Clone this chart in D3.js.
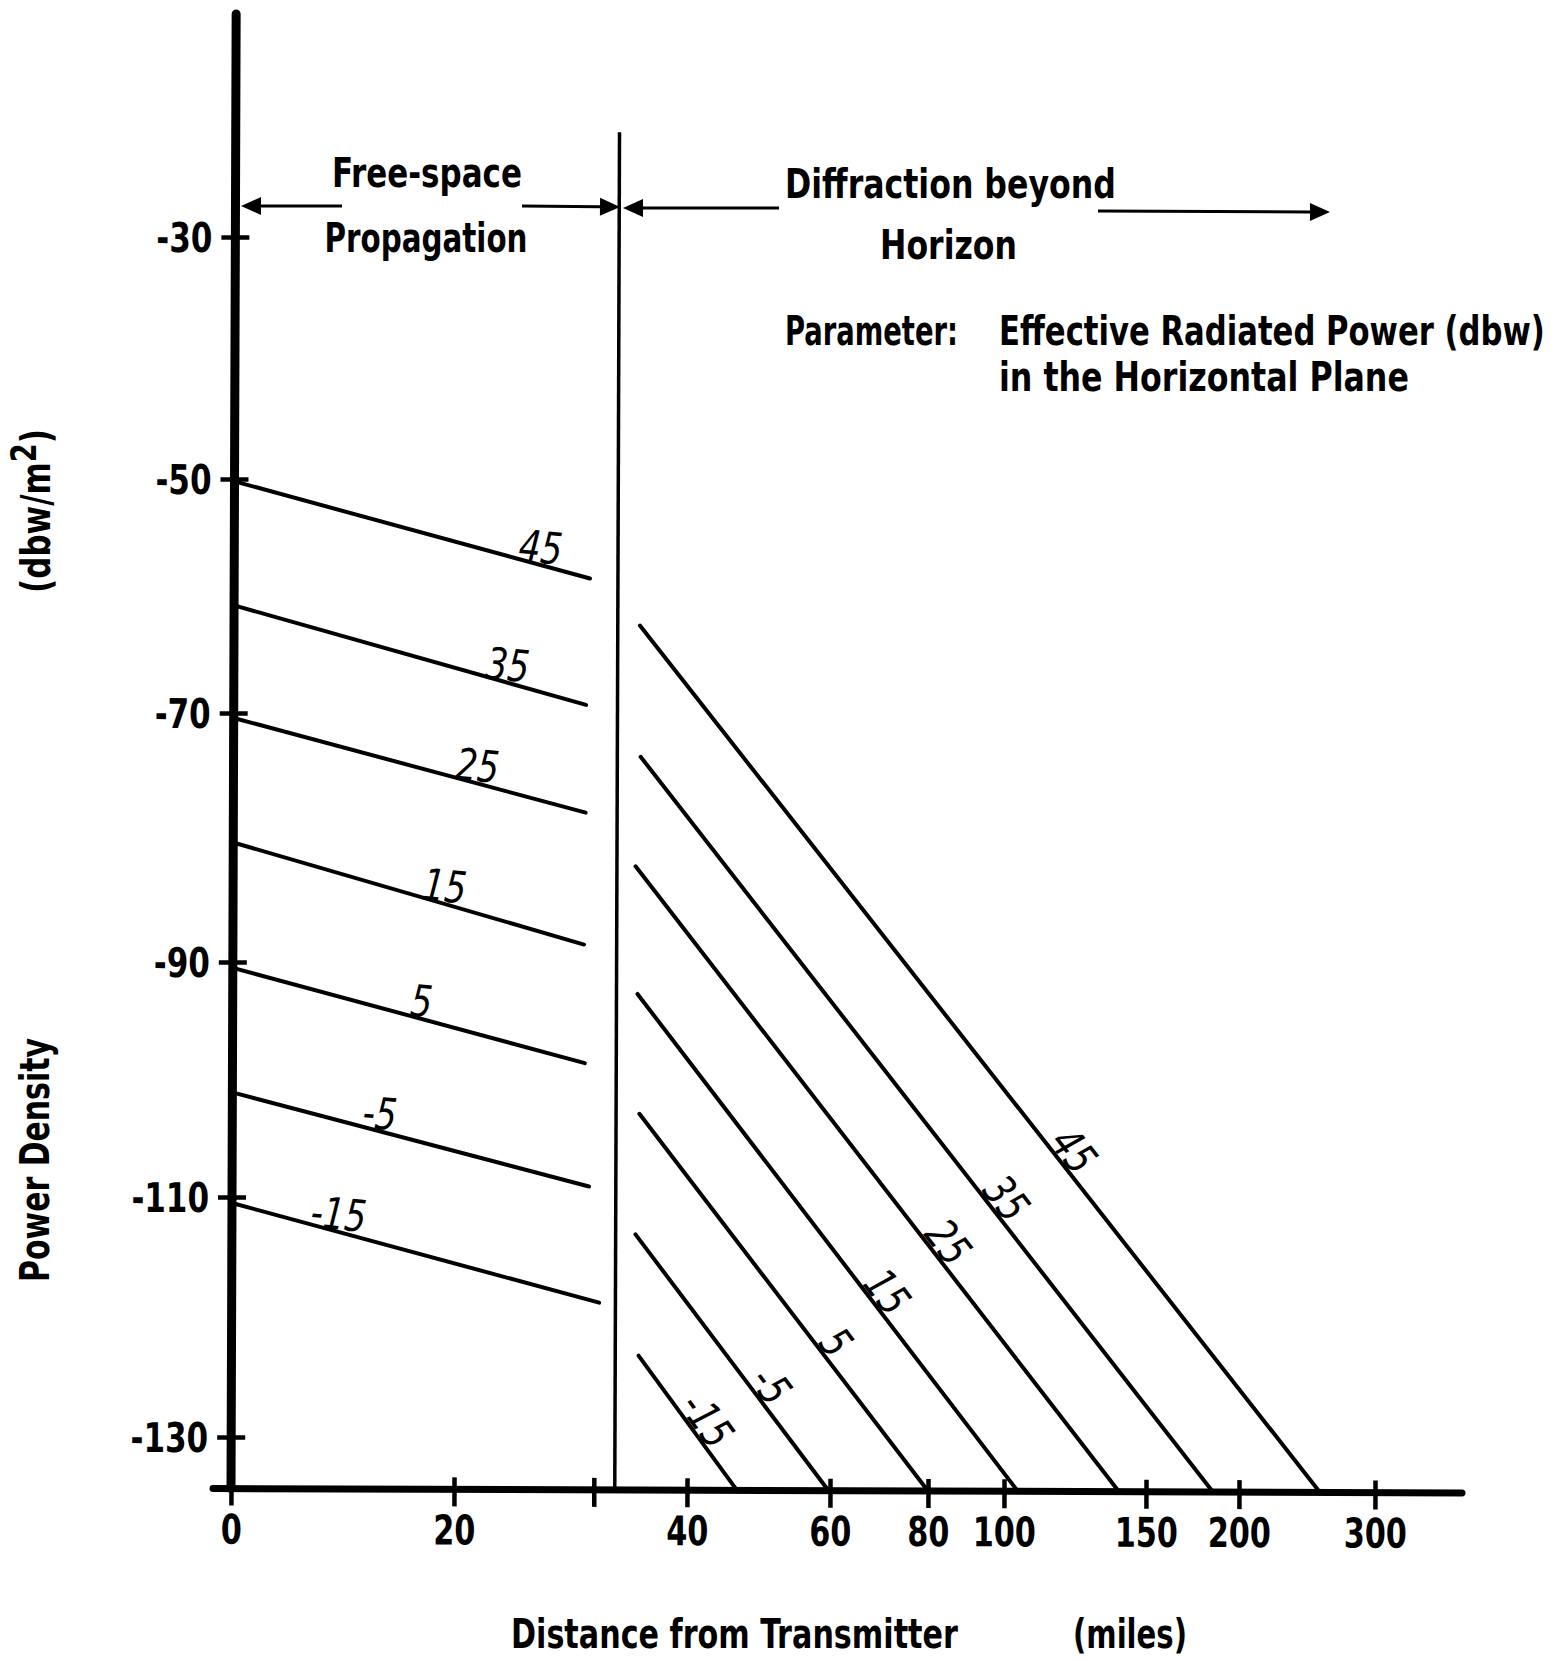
<!DOCTYPE html>
<html>
<head>
<meta charset="utf-8">
<script src="https://cdn.jsdelivr.net/npm/d3@7"></script>
<style>
  html, body { margin: 0; padding: 0; background: #fff; }
  svg { display: block; }
  text { font-family: "Liberation Sans Narrow", "DejaVu Sans Condensed", "Liberation Sans", sans-serif; fill: #000; }
  .hd { font-weight: bold; font-size: 41px; }
  .tl { font-weight: bold; font-size: 41px; }
  .lbl { font-style: italic; font-size: 44px; }
</style>
</head>
<body>
<svg id="chart" width="1565" height="1661"></svg>
<script>
// Effective radiated power in the horizontal plane (dbw), one curve per level
const erpLevels = [45, 35, 25, 15, 5, -5, -15];

// Free-space propagation: power density (dbw/m²) at the transmitter and at the end of the segment
const freeSpaceStartDb = [-50.2, -60.8, -70.4, -80.4, -90.5, -101.1, -110.5];
const freeSpaceEndMiles = [31.4, 31.1, 31.1, 31.0, 31.1, 31.5, 32.4];
const freeSpaceEndDb = [-58.4, -69.2, -77.9, -88.5, -98.5, -109.0, -118.7];

// Diffraction beyond the horizon: start point and the distance where each curve reaches the floor
const diffStartMiles = [35.7, 35.8, 35.4, 35.6, 35.8, 35.5, 35.8];
const diffStartDb = [-62.4, -73.4, -82.2, -92.6, -102.8, -113.0, -123.1];
const diffEndMiles = [259.6, 186, 140.5, 104.9, 80, 59.8, 47.0];
const floorDb = -134.3;
const horizonMiles = 33.8;

// Axis ticks
const xTickMiles = [0, 20, 32, 40, 60, 80, 100, 150, 200, 300];
const xTickLabels = ["0", "20", "", "40", "60", "80", "100", "150", "200", "300"];
const yTickDb = [-30, -50, -70, -90, -110, -130];
const yTickLabels = ["-30", "-50", "-70", "-90", "-110", "-130"];

// ---- helpers to narrow the lettering to the condensed face of the drawing
function squeeze(sel, k) {
  sel.each(function () {
    const L = this.getComputedTextLength();
    if (L > 0) d3.select(this).attr("textLength", L * k).attr("lengthAdjust", "spacingAndGlyphs");
  });
}
// place a text at (px,py), optionally rotated, and scale it horizontally to width w
function placeFitted(sel, px, py, rot, w) {
  const node = sel.node();
  const L = node.getComputedTextLength();
  const k = L > 0 ? w / L : 1;
  sel.attr("transform", `translate(${px},${py}) rotate(${rot}) scale(${k},1)`);
}

// ---- scales: the distance axis is stretched piecewise between its labelled stops
const xBreaks = xTickMiles.filter((d, i) => xTickLabels[i] !== "");
const xBreakPx = [231, 454, 687, 830, 928, 1004, 1146, 1239, 1375];
const x = d3.scaleLinear().domain(xBreaks).range(xBreakPx);
const y = d3.scaleLinear().domain(yTickDb).range([237, 479, 713, 962, 1197, 1437]);

const ox = x(0), oy = y(floorDb);
const svg = d3.select("#chart");
// the whole plotting frame sits slightly tilted on the sheet
const plot = svg.append("g").attr("transform", `rotate(0.2,${ox},${oy})`);

// axis lines
plot.append("line")
  .attr("x1", ox).attr("x2", ox).attr("y1", 14).attr("y2", oy)
  .attr("stroke", "#000").attr("stroke-width", 9).attr("stroke-linecap", "round");
plot.append("line")
  .attr("x1", ox - 18).attr("x2", 1462).attr("y1", oy).attr("y2", oy)
  .attr("stroke", "#000").attr("stroke-width", 7).attr("stroke-linecap", "round");

// x axis ticks and labels
const xAxis = d3.axisBottom(x)
  .tickValues(xTickMiles)
  .tickFormat((d, i) => xTickLabels[i])
  .tickSizeInner(17).tickSizeOuter(0).tickPadding(9);
const gx = plot.append("g").attr("transform", `translate(0,${oy})`).call(xAxis);
gx.select(".domain").remove();
gx.selectAll(".tick line").attr("y1", -12).attr("stroke", "#000").attr("stroke-width", 4.5);
gx.selectAll(".tick text").attr("class", "tl").call(squeeze, 0.82);

// y axis ticks and labels
const yAxis = d3.axisLeft(y)
  .tickValues(yTickDb)
  .tickFormat((d, i) => yTickLabels[i])
  .tickSizeInner(14).tickSizeOuter(0).tickPadding(9);
const gy = plot.append("g").attr("transform", `translate(${ox},0)`).call(yAxis);
gy.select(".domain").remove();
gy.selectAll(".tick line").attr("x1", 14).attr("stroke", "#000").attr("stroke-width", 4.5);
gy.selectAll(".tick text").attr("class", "tl").attr("dy", "0.36em").call(squeeze, 0.84);

// horizon divider
plot.append("line")
  .attr("x1", x(horizonMiles)).attr("x2", x(horizonMiles))
  .attr("y1", 131).attr("y2", oy)
  .attr("stroke", "#000").attr("stroke-width", 3.5);

// curves
const line = d3.line().x(d => x(d[0])).y(d => y(d[1]));
const freeSpace = erpLevels.map((p, i) => ({
  p, pts: [[0, freeSpaceStartDb[i]], [freeSpaceEndMiles[i], freeSpaceEndDb[i]]]
}));
const diffraction = erpLevels.map((p, i) => ({
  p, pts: [[diffStartMiles[i], diffStartDb[i]], [diffEndMiles[i], floorDb]]
}));

plot.append("g").selectAll("path").data(freeSpace.concat(diffraction)).join("path")
  .attr("d", d => line(d.pts))
  .attr("fill", "none").attr("stroke", "#000")
  .attr("stroke-width", 4).attr("stroke-linecap", "round");

// curve labels placed part-way along each segment
function along(pts, t) {
  const ax = x(pts[0][0]), ay = y(pts[0][1]);
  const bx = x(pts[1][0]), by = y(pts[1][1]);
  return {
    x: ax + t * (bx - ax), y: ay + t * (by - ay),
    ang: Math.atan2(by - ay, bx - ax) * 180 / Math.PI
  };
}
const freeLabelT = [0.857, 0.773, 0.688, 0.598, 0.531, 0.409, 0.286];
const diffLabelT = [0.618, 0.615, 0.618, 0.62, 0.634, 0.63, 0.553];

plot.append("g").selectAll("text").data(freeSpace).join("text")
  .attr("class", "lbl")
  .attr("text-anchor", "middle")
  .attr("transform", (d, i) => {
    const a = along(d.pts, freeLabelT[i]);
    return `translate(${a.x},${a.y}) rotate(${a.ang * 0.35})`;
  })
  .attr("y", -2)
  .text(d => d.p)
  .call(squeeze, 0.86);

plot.append("g").selectAll("text").data(diffraction).join("text")
  .attr("class", "lbl")
  .attr("text-anchor", "middle")
  .attr("transform", (d, i) => {
    const a = along(d.pts, diffLabelT[i]);
    return `translate(${a.x},${a.y}) rotate(${a.ang})`;
  })
  .attr("y", -2)
  .text(d => d.p)
  .call(squeeze, 0.86);

// region arrows
const arrows = [
  { from: [342, 206], to: [241, 206] },
  { from: [522, 206], to: [620, 207] },
  { from: [779, 208], to: [623, 208] },
  { from: [1098, 211], to: [1330, 212] }
];
const gA = svg.append("g");
arrows.forEach(a => {
  const dx = a.to[0] - a.from[0], dy = a.to[1] - a.from[1];
  const len = Math.hypot(dx, dy), ux = dx / len, uy = dy / len;
  const hl = 20, hw = 9;
  const bx = a.to[0] - ux * hl, by = a.to[1] - uy * hl;
  gA.append("line")
    .attr("x1", a.from[0]).attr("y1", a.from[1]).attr("x2", bx).attr("y2", by)
    .attr("stroke", "#000").attr("stroke-width", 3);
  gA.append("path")
    .attr("d", `M${a.to[0]},${a.to[1]}L${bx - uy * hw},${by + ux * hw}L${bx + uy * hw},${by - ux * hw}Z`)
    .attr("fill", "#000");
});

// headings and notes
const notes = [
  { t: "Free-space", x: 427, y: 187, anchor: "middle", w: 190 },
  { t: "Propagation", x: 426, y: 252, anchor: "middle", w: 203 },
  { t: "Diffraction beyond", x: 785, y: 198, anchor: "start", w: 331 },
  { t: "Horizon", x: 880, y: 259, anchor: "start", w: 137 },
  { t: "Parameter:", x: 785, y: 345, anchor: "start", w: 173 },
  { t: "Effective Radiated Power (dbw)", x: 999, y: 345, anchor: "start", w: 546 },
  { t: "in the Horizontal Plane", x: 999, y: 391, anchor: "start", w: 410 },
  { t: "Distance from Transmitter", x: 511, y: 1648, anchor: "start", w: 447 },
  { t: "(miles)", x: 1073, y: 1648, anchor: "start", w: 114 }
];
svg.append("g").selectAll("text").data(notes).join("text")
  .attr("class", "hd")
  .attr("text-anchor", d => d.anchor)
  .text(d => d.t)
  .each(function (d) { placeFitted(d3.select(this), d.x, d.y, 0, d.w); });

// vertical axis title
svg.append("text").attr("class", "hd")
  .attr("text-anchor", "middle")
  .text("Power Density")
  .call(placeFitted, 49, 1160, -90, 244);
const unit = svg.append("text").attr("class", "hd")
  .attr("text-anchor", "middle");
unit.append("tspan").text("(dbw/m");
unit.append("tspan").attr("baseline-shift", "38%").attr("font-size", "36px").text("2");
unit.append("tspan").attr("baseline-shift", "0%").text(")");
unit.call(placeFitted, 50, 511, -90, 164);
</script>
</body>
</html>
